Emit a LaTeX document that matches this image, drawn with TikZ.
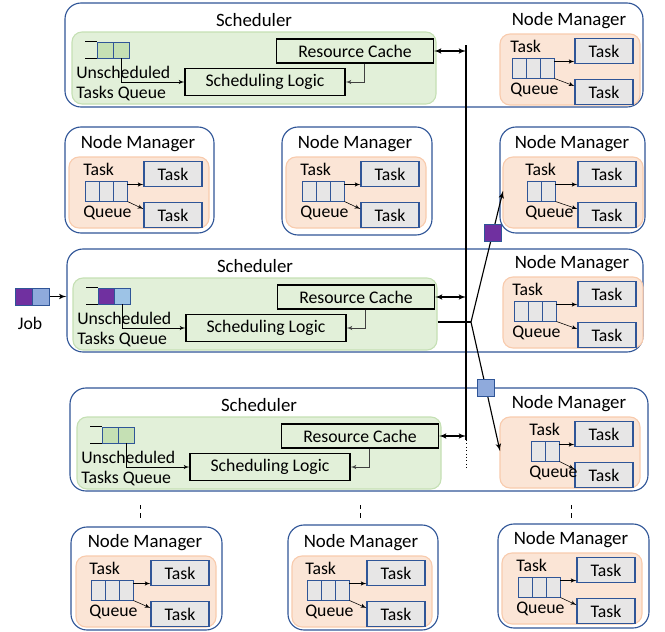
\documentclass[tikz,border=0pt]{standalone}
\usepackage{fontspec}
\setmainfont{Carlito}
\usetikzlibrary{positioning, arrows, fit}
\definecolor{boxblue}{HTML}{2F5597}
\definecolor{schfill}{HTML}{E2F0D9}
\definecolor{schline}{HTML}{C5E0B4}
\definecolor{qgreen}{HTML}{C5E0B4}
\definecolor{nmfill}{HTML}{FBE5D6}
\definecolor{nmline}{HTML}{F8CBAD}
\definecolor{taskgray}{HTML}{E7E6E6}
\definecolor{jobpurple}{HTML}{7030A0}
\definecolor{jobblue}{HTML}{8FAADC}
\definecolor{qblue}{HTML}{9DC3E6}
\tikzset{
outer/.style={
  draw=boxblue,
  line width=0.8pt,
  rounded corners=0.4cm, inner sep=0pt
  },
schbox/.style={draw=schline, fill=schfill, line width=0.8pt, rounded corners=0.25cm, inner sep=0pt},
nmbox/.style={draw=nmline, fill=nmfill, line width=0.8pt, rounded corners=0.25cm, inner sep=0pt},
taskbox/.style={
  draw=boxblue, fill=taskgray,
  line width=0.8pt,
  minimum width=1.45cm,
  minimum height=0.625cm, inner sep=0pt
  },
qcell/.style={draw=boxblue, fill=taskgray, line width=0.7pt, minimum width=0.35cm, minimum height=0.5cm, inner sep=0pt},
scell/.style={draw=boxblue, line width=0.7pt, minimum size=0.4cm, inner sep=0pt},
logic/.style={draw, line width=0.9pt, minimum height=0.6cm, inner sep=0pt},
token/.style={draw=boxblue, line width=0.5pt, minimum size=0.425cm, inner sep=0pt},
lbl/.style={inner sep=0pt},
heading/.style={inner sep=0pt, font=\fontsize{13.4}{16}\selectfont},
line/.style={->,>=latex'},
dline/.style={<->,>=latex', line width=0.8pt}
}
% node manager: name, x, y of the task area, queue cells, queue offset
\newcommand{\nodemgr}[5]{
  \node[nmbox, fit={(#2,#3) ({#2+140},{#3+71})}] (#1box) {};
  \node[heading] (#1title) at ({#2+69},{#3-13}) {Node Manager};
  \foreach \k in {1,...,#4}
    \node[qcell] (#1q\k) at ({#2+#5+7+14*(\k-1)},{#3+34}) {};
  \node[taskbox] (#1t1) at ({#2+104},{#3+17}) {Task};
  \node[taskbox] (#1t2) at ({#2+104},{#3+58}) {Task};
  \node[lbl, anchor=west] (#1task) at ({#2+#5-2},{#3+12}) {Task};
  \node[lbl, anchor=west] (#1queue) at ({#2+#5-2},{#3+56}) {Queue};
  \coordinate (#1a) at ([yshift=-0.1cm]#1q#4.north east);
  \coordinate (#1in) at (#2,{#3+34});
  \draw[line] (#1a) -- (#1a -| #1t1.west);
  \draw[line] (#1q#4.south east) -- ([yshift=0.15cm]#1t2.west);
}
% scheduler: name, x, y of the green area, colours of the queued tasks
\newcommand{\schedulerbox}[5]{
  \node[schbox, fit={(#2,#3) ({#2+364},{#3+72})}] (#1box) {};
  \node[heading] (#1title) at ({#2+182},{#3-12}) {Scheduler};
  \node[scell, fill=#4] (#1c1) at ({#2+33},{#3+18}) {};
  \node[scell, fill=#5] (#1c2) at ({#2+49},{#3+18}) {};
  \draw[line width=0.9pt] (#1c1.north west) -- ++(-12,0);
  \draw[line width=0.9pt] (#1c1.south west) -- ++(-12,0);
  \node[lbl, anchor=west] (#1u) at ({#2+4},{#3+40}) {Unscheduled};
  \node[lbl, anchor=west] (#1tq) at ({#2+4},{#3+62}) {Tasks Queue};
  \node[logic, minimum width=3.925cm] (#1rc) at ({#2+283},{#3+19}) {Resource Cache};
  \node[logic, minimum width=4cm, minimum height=0.675cm] (#1sl) at ({#2+193},{#3+50}) {Scheduling Logic};
  \draw[line] (#1c2.south) |- (#1sl.west);
  \draw[line, black!75] ([xshift=0.225cm]#1rc.south) |- (#1sl.east);
}

\begin{document}
\begin{tikzpicture}[x=0.025cm, y=-0.025cm, font=\fontsize{12.6}{15}\selectfont]
\useasboundingbox (0,0) rectangle (665,632);
% frames
\node[outer, fit={(65,3) (643,107)}] (s1frame) {};
\node[outer, fit={(67,249) (643,352)}] (s2frame) {};
\node[outer, fit={(70,388) (648,491)}] (s3frame) {};
\node[outer, fit={(65,127) (214,233)}] (n2frame) {};
\node[outer, fit={(282,127) (432,235)}] (n3frame) {};
\node[outer, fit={(500,127) (645,233)}] (n4frame) {};
\node[outer, fit={(71,527) (222,630)}] (n7frame) {};
\node[outer, fit={(288,525) (438,630)}] (n8frame) {};
\node[outer, fit={(498,524) (649,628)}] (n9frame) {};

\schedulerbox{s1}{72}{32}{qgreen}{qgreen}
\schedulerbox{s2}{73}{278}{jobpurple}{qblue}
\schedulerbox{s3}{77}{417}{qgreen}{qgreen}

\nodemgr{n1}{500}{34}{3}{12}
\nodemgr{n2}{69}{157}{3}{16}
\nodemgr{n3}{286}{157}{3}{16}
\nodemgr{n4}{503}{157}{2}{24}
\nodemgr{n5}{503}{277}{3}{11}
\nodemgr{n6}{500}{417}{2}{31}
\nodemgr{n7}{76}{556}{3}{15}
\nodemgr{n8}{292}{556}{3}{15}
\nodemgr{n9}{502}{553}{3}{16}

% bus between the schedulers
\coordinate (bustop) at (466,45);
\coordinate (busend) at (466,440);
\coordinate (busdots) at (466,470);
\draw[line width=0.8pt] (bustop) -- (busend);
\draw[dotted] (busend) -- (busdots);
\draw[dline] (s1rc.east) -- (s1rc.east -| bustop);
\draw[dline] (s2rc.east) -- (s2rc.east -| bustop);
\draw[dline] (s3rc.east) -- (s3rc.east -| bustop);

% tasks sent to the node managers
\coordinate (fork) at (471,322);
\draw[line width=0.8pt] (s2box.east |- fork) -- (fork);
\draw[line, line width=0.8pt] (fork) -- node[token, fill=jobpurple, pos=0.68] (tokp) {} (n4in);
\draw[line, line width=0.8pt] (fork) -- node[token, fill=jobblue, pos=0.51] (tokb) {} (n6in);

% incoming job
\node[token, fill=jobpurple] (jobp) at (23.5,296.5) {};
\node[token, fill=jobblue, right=0pt of jobp] (jobb) {};
\node[lbl] (job) at (30,323) {Job};
\draw[line, line width=0.8pt] (jobb.east) -- (jobb.east -| s2frame.west);

\draw[dashed] (140,505) -- (140,521);
\draw[dashed] (360,505) -- (360,521);
\draw[dashed] (571,505) -- (571,521);
\end{tikzpicture}
\end{document}
